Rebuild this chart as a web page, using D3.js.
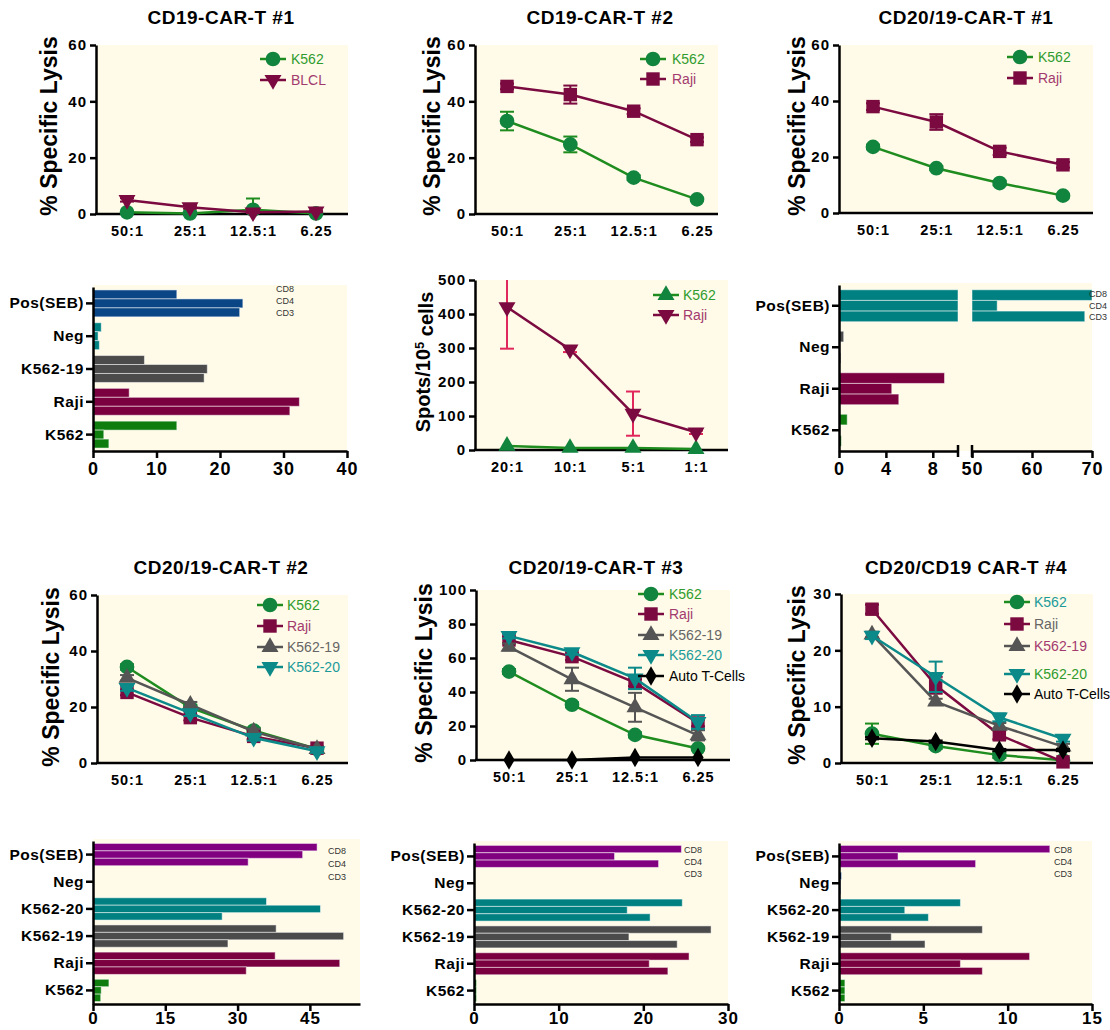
<!DOCTYPE html>
<html>
<head>
<meta charset="utf-8">
<script src="https://cdn.jsdelivr.net/npm/d3@7"></script>
<style>
body { margin: 0; background: #fff; }
svg text { font-family: "Liberation Sans", Arial, sans-serif; }
</style>
</head>
<body>
<svg id="fig" width="1110" height="1030"></svg>
<script>
'use strict';

// category / tick labels
var ratioLabels = ['50:1', '25:1', '12.5:1', '6.25'];
var elispotLabels = ['20:1', '10:1', '5:1', '1:1'];
var cdLabels = ['CD8', 'CD4', 'CD3'];

// --- lysis curves (value, +/- error) ---
// CD19-CAR-T #1
var p1K562 = [0.6, 0.2, 1.5, 0.2], p1K562Err = [0.3, 0.2, 4.0, 0.2];
var p1BLCL = [5.0, 2.4, 0.6, 0.9], p1BLCLErr = [0.6, 0.5, 0.4, 0.3];
// CD19-CAR-T #2
var p2K562 = [33.0, 24.7, 12.9, 5.2], p2K562Err = [3.3, 2.8, 0.8, 0.5];
var p2Raji = [45.3, 42.4, 36.5, 26.4], p2RajiErr = [1.0, 3.2, 1.0, 0.8];
// CD20/19-CAR-T #1
var p3K562 = [23.6, 16.0, 10.7, 6.2], p3K562Err = [0.8, 0.7, 0.8, 0.5];
var p3Raji = [38.0, 32.5, 22.0, 17.2], p3RajiErr = [1.2, 2.8, 1.3, 1.0];
// ELISpot
var p5K562 = [12, 6, 6, 3], p5K562Err = [0, 0, 0, 0];
var p5Raji = [420, 296, 107, 52], p5RajiErr = [122, 8, 65, 5];
// CD20/19-CAR-T #2
var p7K562 = [34.3, 19.8, 11.6, 5.0], p7K562Err = [1, 1, 1, 0.5];
var p7Raji = [25.2, 16.2, 9.5, 5.3], p7RajiErr = [1, 1, 1, 0.5];
var p7K56219 = [30.4, 20.8, 11.2, 5.0], p7K56219Err = [1, 1, 1, 0.5];
var p7K56220 = [26.8, 17.8, 9.0, 4.2], p7K56220Err = [1, 1, 1, 0.5];
// CD20/19-CAR-T #3
var p8K562 = [52, 32.5, 14.8, 6.8], p8K562Err = [1.5, 1.5, 1.5, 1.0];
var p8Raji = [70.6, 60.8, 45.5, 21.8], p8RajiErr = [2, 2, 2, 2];
var p8K56219 = [66.5, 47.5, 31, 14.5], p8K56219Err = [2, 6.8, 8.5, 3];
var p8K56220 = [73, 63.5, 48, 22.4], p8K56220Err = [1.5, 1.5, 6.3, 4];
var p8Auto = [0, 0, 1.5, 1.5], p8AutoErr = [0, 0, 0, 0];
// CD20/CD19 CAR-T #4
var p9K562 = [5.2, 3.0, 1.4, 0.5], p9K562Err = [1.8, 0.5, 0.5, 0.3];
var p9Raji = [27.3, 13.8, 5.0, 0.2], p9RajiErr = [0.8, 1.5, 0.8, 0.3];
var p9K56219 = [22.8, 10.9, 6.6, 2.9], p9K56219Err = [0.5, 0.5, 0.5, 0.5];
var p9K56220 = [22.6, 15.3, 8.1, 4.3], p9K56220Err = [0.6, 2.7, 0.7, 0.5];
var p9Auto = [4.4, 3.8, 2.3, 2.3], p9AutoErr = [0.2, 0.2, 0.2, 0.2];

// --- flow bars (one array per marker, one value per category) ---
var p4Cats = ['Pos(SEB)', 'Neg', 'K562-19', 'Raji', 'K562'];
var p4CD8 = [13.2, 1.3, 8.1, 5.7, 13.2];
var p4CD4 = [23.6, 0.8, 18.0, 32.5, 1.7];
var p4CD3 = [23.1, 1.0, 17.5, 31.0, 2.5];

var p6Cats = ['Pos(SEB)', 'Neg', 'Raji', 'K562'];
var p6CD8 = [70, 0.4, 9.0, 0.7];
var p6CD4 = [54.2, 0.1, 4.5, 0.1];
var p6CD3 = [68.8, 0.15, 5.1, 0.2];

var catsB = ['Pos(SEB)', 'Neg', 'K562-20', 'K562-19', 'Raji', 'K562'];
var p10CD8 = [46.5, 0.2, 36.0, 38.0, 37.8, 3.3];
var p10CD4 = [43.5, 0.2, 47.2, 52.0, 51.2, 1.7];
var p10CD3 = [32.2, 0.2, 26.8, 28.0, 31.8, 1.6];

var p11CD8 = [24.5, 0, 24.6, 28.0, 25.4, 0.3];
var p11CD4 = [16.6, 0, 18.1, 18.3, 20.7, 0.3];
var p11CD3 = [21.8, 0, 20.8, 24.0, 22.9, 0.3];

var p12CD8 = [12.5, 0.15, 7.2, 8.5, 11.3, 0.35];
var p12CD4 = [3.5, 0.1, 3.9, 3.1, 7.2, 0.35];
var p12CD3 = [8.1, 0.1, 5.3, 5.1, 8.5, 0.35];

// colours
var BG = '#fffbe8';
var GREEN = '#11843d', GREEN_LINE = '#1f8c1f', MAROON = '#7b0a40', GREY = '#555555', TEAL = '#0c8a8a', BLACK = '#000000';
var PINK_ERR = '#e0285c';
var T_GREEN = '#2f9b2f', T_MAROON = '#a33a6e', T_GREY = '#666666', T_TEAL = '#1b9a9a';
var BAR_PURPLE = '#800080', BAR_NAVY = '#073a80', BAR_BLUE = '#0a4585', BAR_TEAL = '#008080',
    BAR_GREY = '#4b4b4b', BAR_MAROON = '#7b003f', BAR_GREEN = '#0e7d0e';

var svg = d3.select('#fig');
var clipCount = 0;

var symbolTypes = { circle: d3.symbolCircle, square: d3.symbolSquare, up: d3.symbolTriangle, down: d3.symbolTriangle, diamond: d3.symbolDiamond };
var symbolSizes = { circle: 170, square: 180, up: 125, down: 125, diamond: 110 };

function DrawMarker(sel, shape, color, cx, cy) {
    sel.append('path')
        .attr('d', d3.symbol().type(symbolTypes[shape]).size(symbolSizes[shape]))
        .attr('transform', 'translate(' + cx + ',' + cy + ')' + (shape === 'down' ? ' rotate(180)' : ''))
        .attr('fill', color);
}

function StyleAxis(ax, fontSize) {
    ax.select('.domain').attr('stroke', '#000').attr('stroke-width', 2.5);
    ax.selectAll('.tick line').attr('stroke', '#000').attr('stroke-width', 2.5);
    ax.selectAll('.tick text')
        .attr('fill', '#000')
        .style('font-size', fontSize + 'px')
        .style('font-weight', 'bold')
        .style('letter-spacing', '1px');
}

function DrawTitle(text, cx, by) {
    svg.append('text').attr('x', cx).attr('y', by).attr('text-anchor', 'middle')
        .style('font-size', '19px').style('font-weight', 'bold').style('letter-spacing', '0.5px')
        .text(text);
}

function DrawYLabel(cx, cy) {
    svg.append('text')
        .attr('transform', 'translate(' + cx + ',' + cy + ') rotate(-90)')
        .attr('text-anchor', 'middle').attr('dy', '0.35em')
        .style('font-size', '23px').style('font-weight', 'bold')
        .text('% Specific Lysis');
}

function LinePanel(cfg) {
    var g = svg.append('g');
    var x = d3.scalePoint().domain(cfg.cats).range([cfg.px0, cfg.px1]);
    var y = d3.scaleLinear().domain([0, cfg.ymax]).range([cfg.y1, cfg.y0]);

    g.append('rect').attr('x', cfg.x0).attr('y', cfg.y0)
        .attr('width', cfg.x1 - cfg.x0).attr('height', cfg.y1 - cfg.y0).attr('fill', BG);
    var id = 'clip' + (clipCount++);
    g.append('clipPath').attr('id', id).append('rect')
        .attr('x', cfg.x0).attr('y', cfg.y0).attr('width', cfg.x1 - cfg.x0).attr('height', cfg.y1 - cfg.y0);

    // axes
    var ay = g.append('g').attr('transform', 'translate(' + cfg.x0 + ',0)')
        .call(d3.axisLeft(y).tickValues(cfg.yticks).tickSize(6).tickSizeOuter(0).tickPadding(3));
    StyleAxis(ay, 15);
    var ax = g.append('g').attr('transform', 'translate(0,' + cfg.y1 + ')')
        .call(d3.axisBottom(x).tickSize(0).tickPadding(12));
    ax.select('.domain').remove();
    StyleAxis(ax, 14.5);
    g.append('line').attr('x1', cfg.x0 - 1).attr('x2', cfg.x1).attr('y1', cfg.y1).attr('y2', cfg.y1)
        .attr('stroke', '#000').attr('stroke-width', 2.5);

    var line = d3.line().x(function(d, i) { return x(cfg.cats[i]); }).y(function(d) { return y(d); });
    cfg.series.forEach(function(s) {
        g.append('path').attr('d', line(s.values)).attr('fill', 'none')
            .attr('stroke', s.line || s.color).attr('stroke-width', 2.5);
        var eg = g.append('g').attr('clip-path', 'url(#' + id + ')')
            .attr('stroke', s.errColor || s.line || s.color).attr('stroke-width', 2);
        s.values.forEach(function(v, i) {
            var e = s.err[i];
            if (!e) return;
            var cx = x(cfg.cats[i]);
            eg.append('line').attr('x1', cx).attr('x2', cx).attr('y1', y(v - e)).attr('y2', y(v + e));
            [v - e, v + e].forEach(function(ev) {
                eg.append('line').attr('x1', cx - 7).attr('x2', cx + 7).attr('y1', y(ev)).attr('y2', y(ev));
            });
        });
        s.values.forEach(function(v, i) { DrawMarker(g, s.shape, s.color, x(cfg.cats[i]), y(v)); });
    });

    // legend
    cfg.series.forEach(function(s, i) {
        var ly = cfg.legend.ys[i];
        g.append('line').attr('x1', cfg.legend.mx - 13).attr('x2', cfg.legend.mx + 13)
            .attr('y1', ly).attr('y2', ly).attr('stroke', s.line || s.color).attr('stroke-width', 2.5);
        DrawMarker(g, s.shape, s.color, cfg.legend.mx, ly);
        g.append('text').attr('x', cfg.legend.tx).attr('y', ly).attr('dy', '0.36em')
            .attr('fill', cfg.legend.colors[i]).style('font-size', '14px')
            .text(s.name);
    });
}

function BarPanel(cfg) {
    var g = svg.append('g');
    var y = d3.scaleBand().domain(cfg.cats).range([cfg.y0, cfg.y1])
        .paddingInner(cfg.pad).paddingOuter(cfg.pad / 2);
    var sub = d3.scaleBand().domain(cdLabels).range([0, y.bandwidth()]);
    var segs = cfg.segs.map(function(s) {
        return { x: d3.scaleLinear().domain(s.dom).range(s.range), dom: s.dom, range: s.range, ticks: s.ticks };
    });
    var x0 = segs[0].range[0], x1 = segs[segs.length - 1].range[1];

    g.append('rect').attr('x', x0).attr('y', cfg.y0 - 2)
        .attr('width', x1 - x0).attr('height', cfg.y1 - cfg.y0 + 2).attr('fill', BG);

    var values = [cfg.cd8, cfg.cd4, cfg.cd3];
    segs.forEach(function(seg) {
        cfg.cats.forEach(function(c, i) {
            values.forEach(function(arr, j) {
                var v = arr[i];
                if (v <= seg.dom[0]) return;
                var xa = seg.x(seg.dom[0]), xb = seg.x(Math.min(v, seg.dom[1]));
                g.append('rect')
                    .attr('x', xa).attr('y', y(c) + sub(cdLabels[j]))
                    .attr('width', Math.max(xb - xa, 1)).attr('height', sub.bandwidth())
                    .attr('fill', cfg.colors[i])
                    .attr('stroke', 'rgba(255,255,255,0.5)').attr('stroke-width', 1);
            });
        });
    });

    // marker labels
    cdLabels.forEach(function(t, j) {
        g.append('text').attr('x', cfg.cdx).attr('y', cfg.cdys[j]).attr('dy', '0.35em')
            .attr('fill', '#333').style('font-size', '9px').text(t);
    });

    var ay = g.append('g').attr('transform', 'translate(' + x0 + ',0)')
        .call(d3.axisLeft(y).tickSize(7).tickSizeOuter(0).tickPadding(2));
    StyleAxis(ay, 15.5);
    ay.selectAll('.tick text').style('letter-spacing', '0.5px');

    segs.forEach(function(seg, k) {
        var ax = g.append('g').attr('transform', 'translate(0,' + cfg.y1 + ')')
            .call(d3.axisBottom(seg.x).tickValues(seg.ticks).tickSize(7).tickSizeOuter(0)
                .tickPadding(cfg.tickPad === undefined ? 4 : cfg.tickPad));
        StyleAxis(ax, cfg.tickFont || 18);
        if (segs.length > 1) {
            var bx = k === 0 ? seg.range[1] : seg.range[0];
            g.append('line').attr('x1', bx).attr('x2', bx).attr('y1', cfg.y1 - 6).attr('y2', cfg.y1 + 6)
                .attr('stroke', '#000').attr('stroke-width', 2.5);
        }
    });
}

// ---------- row 1 ----------
DrawTitle('CD19-CAR-T #1', 221, 24);
DrawYLabel(49, 126);
LinePanel({
    cats: ratioLabels, x0: 96, x1: 348, px0: 127, px1: 316, y0: 45, y1: 214, ymax: 60, yticks: [0, 20, 40, 60],
    series: [
        { name: 'K562', values: p1K562, err: p1K562Err, shape: 'circle', color: GREEN, line: GREEN_LINE },
        { name: 'BLCL', values: p1BLCL, err: p1BLCLErr, shape: 'down', color: MAROON }
    ],
    legend: { mx: 273, tx: 291, ys: [59, 80], colors: [T_GREEN, T_MAROON] }
});

DrawTitle('CD19-CAR-T #2', 600, 24);
DrawYLabel(432, 126);
LinePanel({
    cats: ratioLabels, x0: 475, x1: 718, px0: 507, px1: 697, y0: 45, y1: 214, ymax: 60, yticks: [0, 20, 40, 60],
    series: [
        { name: 'K562', values: p2K562, err: p2K562Err, shape: 'circle', color: GREEN, line: GREEN_LINE },
        { name: 'Raji', values: p2Raji, err: p2RajiErr, shape: 'square', color: MAROON }
    ],
    legend: { mx: 653, tx: 672, ys: [59, 79], colors: [T_GREEN, T_MAROON] }
});

DrawTitle('CD20/19-CAR-T #1', 966, 24);
DrawYLabel(797, 126);
LinePanel({
    cats: ratioLabels, x0: 839, x1: 1093, px0: 873, px1: 1063, y0: 45, y1: 213, ymax: 60, yticks: [0, 20, 40, 60],
    series: [
        { name: 'K562', values: p3K562, err: p3K562Err, shape: 'circle', color: GREEN, line: GREEN_LINE },
        { name: 'Raji', values: p3Raji, err: p3RajiErr, shape: 'square', color: MAROON }
    ],
    legend: { mx: 1020, tx: 1038, ys: [57, 78], colors: [T_GREEN, T_MAROON] }
});

// ---------- row 2 ----------
BarPanel({
    cats: p4Cats, cd8: p4CD8, cd4: p4CD4, cd3: p4CD3, y0: 287, y1: 451, pad: 0.18,
    colors: [BAR_BLUE, BAR_TEAL, BAR_GREY, BAR_MAROON, BAR_GREEN],
    segs: [{ dom: [0, 40], range: [93, 347], ticks: [0, 10, 20, 30, 40] }],
    cdx: 276, cdys: [289, 301, 313]
});

(function() {
    var yl = svg.append('text')
        .attr('transform', 'translate(423,362) rotate(-90)')
        .attr('text-anchor', 'middle').attr('dy', '0.35em')
        .style('font-size', '20px').style('font-weight', 'bold');
    yl.append('tspan').text('Spots/10');
    yl.append('tspan').attr('dy', '-0.45em').style('font-size', '13px').text('5');
    yl.append('tspan').attr('dy', '0.45em').text(' cells');
})();
LinePanel({
    cats: elispotLabels, x0: 475, x1: 728, px0: 507, px1: 696, y0: 280, y1: 450, ymax: 500,
    yticks: [0, 100, 200, 300, 400, 500],
    series: [
        { name: 'K562', values: p5K562, err: p5K562Err, shape: 'up', color: GREEN, line: GREEN_LINE },
        { name: 'Raji', values: p5Raji, err: p5RajiErr, shape: 'down', color: MAROON, errColor: PINK_ERR }
    ],
    legend: { mx: 666, tx: 683, ys: [295, 315], colors: [T_GREEN, T_MAROON] }
});

BarPanel({
    cats: p6Cats, cd8: p6CD8, cd4: p6CD4, cd3: p6CD3, y0: 285, y1: 451, pad: 0.23,
    colors: [BAR_TEAL, BAR_GREY, BAR_MAROON, BAR_GREEN],
    segs: [
        { dom: [0, 10.15], range: [839, 958], ticks: [0, 4, 8] },
        { dom: [50, 70], range: [972, 1092], ticks: [50, 60, 70] }
    ],
    cdx: 1089, cdys: [294, 306, 317]
});

// ---------- row 3 ----------
DrawTitle('CD20/19-CAR-T #2', 221, 574);
DrawYLabel(51, 677);
LinePanel({
    cats: ratioLabels, x0: 97, x1: 348, px0: 127, px1: 317, y0: 595, y1: 763, ymax: 60, yticks: [0, 20, 40, 60],
    series: [
        { name: 'K562', values: p7K562, err: p7K562Err, shape: 'circle', color: GREEN, line: GREEN_LINE },
        { name: 'Raji', values: p7Raji, err: p7RajiErr, shape: 'square', color: MAROON },
        { name: 'K562-19', values: p7K56219, err: p7K56219Err, shape: 'up', color: GREY },
        { name: 'K562-20', values: p7K56220, err: p7K56220Err, shape: 'down', color: TEAL }
    ],
    legend: { mx: 270, tx: 287, ys: [605, 626, 647, 667], colors: [T_GREEN, T_MAROON, T_GREY, T_TEAL] }
});

DrawTitle('CD20/19-CAR-T #3', 596, 574);
DrawYLabel(424, 673);
LinePanel({
    cats: ratioLabels, x0: 476, x1: 730, px0: 509, px1: 698, y0: 590, y1: 760, ymax: 100,
    yticks: [0, 20, 40, 60, 80, 100],
    series: [
        { name: 'K562', values: p8K562, err: p8K562Err, shape: 'circle', color: GREEN, line: GREEN_LINE },
        { name: 'Raji', values: p8Raji, err: p8RajiErr, shape: 'square', color: MAROON },
        { name: 'K562-19', values: p8K56219, err: p8K56219Err, shape: 'up', color: GREY },
        { name: 'K562-20', values: p8K56220, err: p8K56220Err, shape: 'down', color: TEAL },
        { name: 'Auto T-Cells', values: p8Auto, err: p8AutoErr, shape: 'diamond', color: BLACK }
    ],
    legend: { mx: 651, tx: 669, ys: [594, 614, 635, 655, 676], colors: [T_GREEN, T_MAROON, T_GREY, T_TEAL, BLACK] }
});

DrawTitle('CD20/CD19 CAR-T #4', 966, 574);
DrawYLabel(797, 675);
LinePanel({
    cats: ratioLabels, x0: 841, x1: 1093, px0: 872, px1: 1063, y0: 594, y1: 763, ymax: 30, yticks: [0, 10, 20, 30],
    series: [
        { name: 'K562', values: p9K562, err: p9K562Err, shape: 'circle', color: GREEN, line: GREEN_LINE },
        { name: 'Raji', values: p9Raji, err: p9RajiErr, shape: 'square', color: MAROON },
        { name: 'K562-19', values: p9K56219, err: p9K56219Err, shape: 'up', color: GREY },
        { name: 'K562-20', values: p9K56220, err: p9K56220Err, shape: 'down', color: TEAL },
        { name: 'Auto T-Cells', values: p9Auto, err: p9AutoErr, shape: 'diamond', color: BLACK }
    ],
    legend: { mx: 1017, tx: 1034, ys: [602, 624, 646, 674, 694], colors: [T_TEAL, T_GREY, T_MAROON, T_GREEN, BLACK] }
});

// ---------- row 4 ----------
BarPanel({
    cats: catsB, cd8: p10CD8, cd4: p10CD4, cd3: p10CD3, y0: 841, y1: 1004, pad: 0.18,
    colors: [BAR_PURPLE, BAR_NAVY, BAR_TEAL, BAR_GREY, BAR_MAROON, BAR_GREEN],
    segs: [{ dom: [0, 55.4], range: [93, 360], ticks: [0, 15, 30, 45] }],
    cdx: 328, cdys: [851, 864, 877], tickPad: 1, tickFont: 17
});

BarPanel({
    cats: catsB, cd8: p11CD8, cd4: p11CD4, cd3: p11CD3, y0: 843, y1: 1004, pad: 0.18,
    colors: [BAR_PURPLE, BAR_NAVY, BAR_TEAL, BAR_GREY, BAR_MAROON, BAR_GREEN],
    segs: [{ dom: [0, 30], range: [474, 728], ticks: [0, 10, 20, 30] }],
    cdx: 684, cdys: [850, 862, 874], tickPad: 1, tickFont: 17
});

BarPanel({
    cats: catsB, cd8: p12CD8, cd4: p12CD4, cd3: p12CD3, y0: 843, y1: 1004, pad: 0.18,
    colors: [BAR_PURPLE, BAR_NAVY, BAR_TEAL, BAR_GREY, BAR_MAROON, BAR_GREEN],
    segs: [{ dom: [0, 15], range: [839, 1092], ticks: [0, 5, 10, 15] }],
    cdx: 1054, cdys: [850, 862, 874], tickPad: 1, tickFont: 17
});
</script>
</body>
</html>
